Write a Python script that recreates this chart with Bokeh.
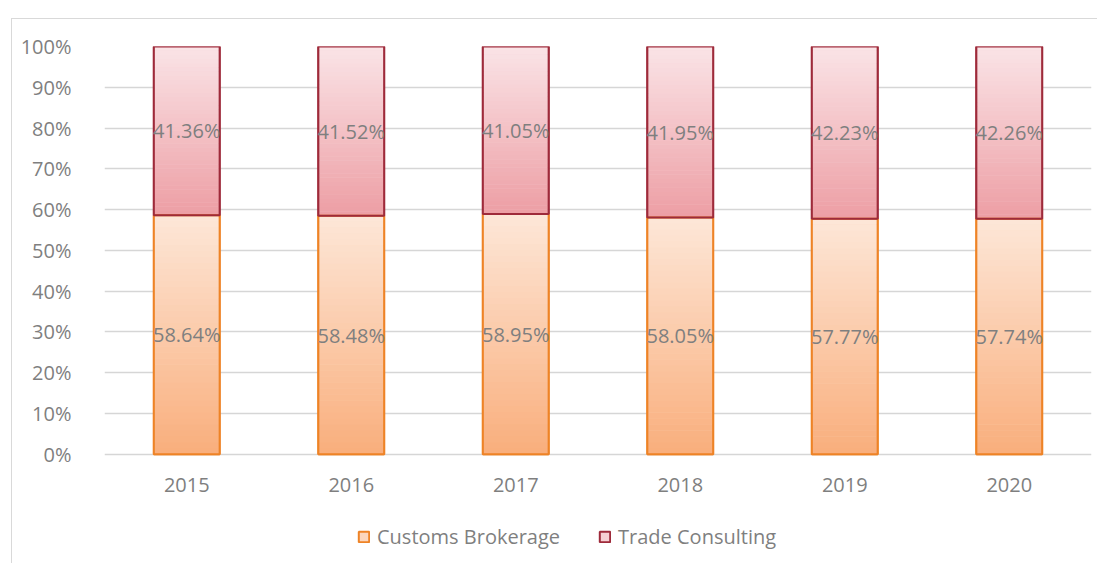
from bokeh.plotting import figure
from bokeh.models import Range1d, FixedTicker, NumeralTickFormatter, Legend, LegendItem, ColumnDataSource
from bokeh.core.properties import value
from bokeh.embed import file_html
from bokeh.resources import INLINE

years = ["2015", "2016", "2017", "2018", "2019", "2020"]
customs_brokerage = [58.64, 58.48, 58.95, 58.05, 57.77, 57.74]
trade_consulting = [41.36, 41.52, 41.05, 41.95, 42.23, 42.26]
y_ticks = [0, 0.1, 0.2, 0.3, 0.4, 0.5, 0.6, 0.7, 0.8, 0.9, 1.0]

FONT = "Open Sans"
GRAY = "#7f7f7f"
BAR_W = 0.4
LW = 2

# frame runs below the 0% line so that the legend (drawn inside) is not clipped
Y_LO = -110 / 407

p = figure(x_range=years, y_range=Range1d(Y_LO, 1), width=1086, height=545,
           output_backend="svg", toolbar_location=None, x_axis_location=None,
           min_border_left=92, min_border_right=7, min_border_top=27, min_border_bottom=0)
p.margin = (18, 0, 0, 11)
p.styles = {"border-left": "1px solid #d9d9d9", "border-top": "1px solid #d9d9d9"}
p.outline_line_color = None
p.background_fill_color = "white"
p.border_fill_color = "white"

# y axis
p.yaxis.ticker = FixedTicker(ticks=y_ticks)
p.yaxis.formatter = NumeralTickFormatter(format="0%")
p.yaxis.axis_line_color = None
p.yaxis.major_tick_line_color = None
p.yaxis.minor_tick_line_color = None
p.yaxis.major_label_standoff = 27
p.yaxis.major_label_text_font = FONT
p.yaxis.major_label_text_font_size = "20px"
p.yaxis.major_label_text_color = GRAY
p.xgrid.grid_line_color = None
p.ygrid.grid_line_color = "#d6d6d6"
p.ygrid.grid_line_width = 1.3

cb = [v / 100 for v in customs_brokerage]
tc = [v / 100 for v in trade_consulting]
tc_bottom = cb
tc_top = [a + b for a, b in zip(cb, tc)]


def hex2rgb(h):
    h = h.lstrip("#")
    return tuple(int(h[i:i + 2], 16) for i in (0, 2, 4))


def lerp(c1, c2, t):
    a, b = hex2rgb(c1), hex2rgb(c2)
    return "#%02x%02x%02x" % tuple(round(a[i] + (b[i] - a[i]) * t) for i in range(3))


CB_TOP, CB_BOT, CB_LINE = "#fde7d8", "#f9ae7c", "#ee8326"
TC_TOP, TC_BOT, TC_LINE = "#fae4e7", "#ed9ea4", "#9e2a3a"

# base layers (used for legend)
r_cb = p.vbar(x=years, bottom=0, top=cb, width=BAR_W, fill_color=lerp(CB_TOP, CB_BOT, 0.3),
              line_color=CB_LINE, line_width=LW)
r_tc = p.vbar(x=years, bottom=tc_bottom, top=tc_top, width=BAR_W, fill_color=lerp(TC_TOP, TC_BOT, 0.3),
              line_color=TC_LINE, line_width=LW)

# gradient slices
N = 40
gx, gb, gt, gc = [], [], [], []
for i, y in enumerate(years):
    for (lo, hi, ctop, cbot) in ((0.0, cb[i], CB_TOP, CB_BOT), (tc_bottom[i], tc_top[i], TC_TOP, TC_BOT)):
        seg = hi - lo
        for k in range(N):
            gx.append(y)
            gb.append(lo + seg * k / N)
            gt.append(lo + seg * (k + 1) / N + seg * 0.002)
            gc.append(lerp(cbot, ctop, (k + 0.5) / N))
p.vbar(x=gx, bottom=gb, top=gt, width=BAR_W, fill_color=gc, line_color=None)

# outlines on top
p.vbar(x=years, bottom=0, top=cb, width=BAR_W, fill_alpha=0, line_color=CB_LINE, line_width=LW)
p.vbar(x=years, bottom=tc_bottom, top=tc_top, width=BAR_W, fill_alpha=0, line_color=TC_LINE, line_width=LW)

# category (x axis) labels under the 0% line
p.text(x=years, y=[0] * len(years), text=years, y_offset=31, text_align="center", text_baseline="middle",
       text_font=value(FONT), text_font_size="20px", text_color=GRAY)

# data labels
lab = ColumnDataSource(dict(
    x=years + years,
    y=[v / 2 for v in cb] + [(a + b) / 2 for a, b in zip(tc_bottom, tc_top)],
    t=["%.2f%%" % v for v in customs_brokerage] + ["%.2f%%" % v for v in trade_consulting],
))
p.text(x="x", y="y", text="t", source=lab, text_align="center", text_baseline="middle",
       text_font=value(FONT), text_font_size="20px", text_color=GRAY)

legend = Legend(items=[LegendItem(label="Customs Brokerage", renderers=[r_cb]),
                       LegendItem(label="Trade Consulting", renderers=[r_tc])],
                orientation="horizontal", location=(253, 14))
legend.glyph_width = 13
legend.glyph_height = 13
legend.label_standoff = 7
legend.spacing = 38
legend.padding = 0
legend.margin = 0
legend.border_line_color = None
legend.background_fill_alpha = 0
legend.label_text_font = FONT
legend.label_text_font_size = "20px"
legend.label_text_color = GRAY
p.add_layout(legend, "center")

open("out.html", "w").write(file_html(p, INLINE))
